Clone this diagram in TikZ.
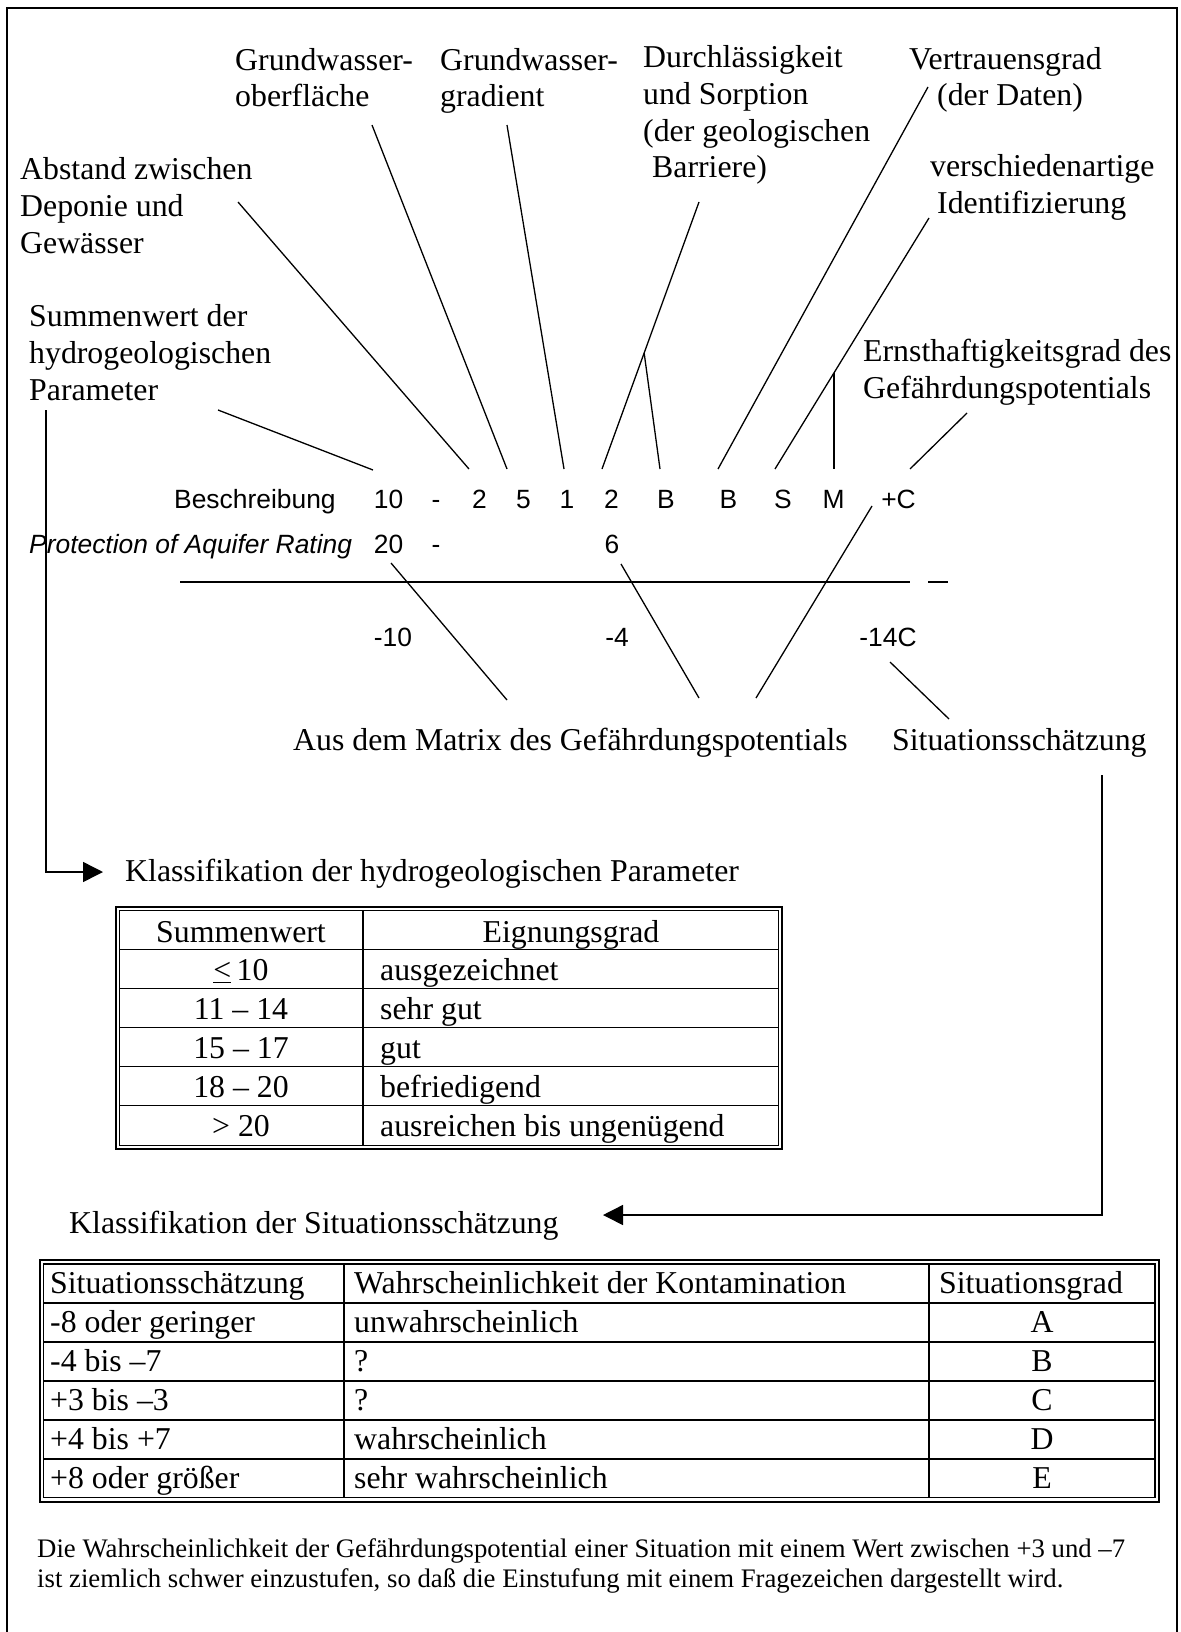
\documentclass[tikz,border=0pt]{standalone}
\usepackage{fontspec}
\setmainfont{Liberation Serif}
\setsansfont{Liberation Sans}
\usetikzlibrary{arrows.meta,calc}

\newcommand\serifbig{\fontsize{31.8}{36.8}\selectfont}
\newcommand\sansrow{\sffamily\fontsize{26.4}{30}\selectfont}
\newcommand\notefont{\fontsize{26.75}{30}\selectfont}

\begin{document}
\begin{tikzpicture}[x=1pt,y=-1pt,
  % multi-line labels are placed by the baseline of their last line
  lbl/.style={font=\serifbig, align=left, inner sep=0pt, anchor=base west},
  val/.style={font=\sansrow, inner sep=0pt, anchor=base},
  conn/.style={line width=1.3pt},
  outerframe/.style={line width=2pt},
  tline/.style={line width=1.4pt},
  tcell/.style={font=\serifbig, inner sep=0pt, anchor=base},
  tcellw/.style={font=\serifbig, inner sep=0pt, anchor=base west},
  flowarrow/.style={line width=1.5pt, -{Triangle[length=20pt,width=20pt]}},
]
\useasboundingbox (0,0) rectangle (1180,1632);

% page frame (open at the bottom edge)
\draw[outerframe] (7,1640) -- (7,8) -- (1177,8) -- (1177,1640);

% ---------- parameter labels ----------
\node[lbl] (ober) at (235,107) {Grundwasser-\\oberfläche};
\node[lbl] (grad) at (440,107) {Grundwasser-\\gradient};
\node[lbl] (durch) at (643,178) {Durchlässigkeit\\und Sorption\\(der geologischen\\\hspace*{9pt}Barriere)};
\node[lbl] (vert) at (909,106) {Vertrauensgrad\\\hspace*{28pt}(der Daten)};
\node[lbl] (abst) at (20,253) {Abstand zwischen\\Deponie und\\Gewässer};
\node[lbl] (versch) at (930,213.5) {verschiedenartige\\\hspace*{7pt}Identifizierung};
\node[lbl] (summ) at (29,400) {Summenwert der\\hydrogeologischen\\Parameter};
\node[lbl] (ernst) at (863,398.5) {Ernsthaftigkeitsgrad des\\Gefährdungspotentials};

% ---------- code line ----------
\node[val, anchor=base west] (besch) at (174,508) {Beschreibung};
\node[val] (v10) at (388.5,508) {10};
\node[val] (vdash) at (436,508) {-};
\node[val] (v2a) at (479.5,508) {2};
\node[val] (v5) at (523.5,508) {5};
\node[val] (v1) at (567,508) {1};
\node[val] (v2b) at (611.5,508) {2};
\node[val] (vBa) at (666,508) {B};
\node[val] (vBb) at (728.5,508) {B};
\node[val] (vS) at (783,508) {S};
\node[val] (vM) at (833.5,508) {M};
\node[val] (vC) at (898.5,508) {+C};

\node[val, anchor=base west, font=\sansrow\itshape] (par) at (29,553) {Protection of Aquifer Rating};
\node[val] (w20) at (388.5,553) {20};
\node[val] (wdash) at (436,553) {-};
\node[val] (w6) at (612,553) {6};

\draw[line width=1.5pt] (180,582) coordinate (ruleA) -- (910,582) coordinate (ruleB);
\draw[line width=1.5pt] (928,582) coordinate (dashA) -- (948,582) coordinate (dashB);

\node[val] (r10) at (393,646) {-10};
\node[val] (r4) at (617,646) {-4};
\node[val] (r14) at (888,646) {-14C};

\node[lbl] (aus) at (293,750) {Aus dem Matrix des Gefährdungspotentials};
\node[lbl] (sit) at (892,750) {Situationsschätzung};

% ---------- connector end points ----------
\coordinate (summ-e) at (218,410);   \coordinate (v10-t) at (373,470);
\coordinate (abst-e) at (238,202);   \coordinate (v2a-t) at (469,469);
\coordinate (ober-e) at (372,125);   \coordinate (v5-t) at (507,469);
\coordinate (grad-e) at (507,125);   \coordinate (v1-t) at (564,469);
\coordinate (durch-e) at (699,202);  \coordinate (v2b-t) at (602,469);
\coordinate (vBa-t) at (660,469);
\coordinate (vert-e) at (928,87);    \coordinate (vBb-t) at (718,469);
\coordinate (versch-e) at (929,218); \coordinate (vS-t) at (775,469);
\coordinate (vM-t) at (834,469);
\coordinate (ernst-e) at (967,413);  \coordinate (vC-t) at (910,469);
\coordinate (w20-b) at (391,563);    \coordinate (aus-a) at (507,700);
\coordinate (w6-b) at (621,564);     \coordinate (aus-b) at (699,698);
\coordinate (vC-b) at (872,506);     \coordinate (aus-c) at (756,698);
\coordinate (r14-b) at (890,662);    \coordinate (sit-t) at (949,719);
\coordinate (durch-br) at ($(durch-e)!0.5655!(v2b-t)$);
\coordinate (versch-br) at ($(versch-e)!0.6175!(vS-t)$);

% ---------- connectors ----------
\draw[conn] (summ-e) -- (v10-t);
\draw[conn] (abst-e) -- (v2a-t);
\draw[conn] (ober-e) -- (v5-t);
\draw[conn] (grad-e) -- (v1-t);
\draw[conn] (durch-e) -- (v2b-t);
\draw[conn] (durch-br) -- (vBa-t);
\draw[conn] (vert-e) -- (vBb-t);
\draw[conn] (versch-e) -- (vS-t);
\draw[conn] (versch-br) -- (versch-br |- vM-t);
\draw[conn] (ernst-e) -- (vC-t);
\draw[conn] (w20-b) -- (aus-a);
\draw[conn] (w6-b) -- (aus-b);
\draw[conn] (vC-b) -- (aus-c);
\draw[conn] (r14-b) -- (sit-t);

% ---------- table 1 ----------
\node[lbl] (kl1) at (125,881) {Klassifikation der hydrogeologischen Parameter};
\coordinate (arr1-s) at (46,410);
\coordinate (arr1-t) at (103,872);
\draw[flowarrow] (arr1-s) |- (arr1-t);

\draw[tline] (116,907) rectangle (782,1149);
\draw[tline] (119.5,910.5) rectangle (778.5,1145.5);
\draw[tline] (363,910.5) -- (363,1145.5);
\foreach \yy in {949.5,988.5,1027.5,1066.5,1105.5}
  \draw[tline] (119.5,\yy) -- (778.5,\yy);

\node[tcell] (t1h1) at (241,942.5) {Summenwert};
\node[tcell] (t1h2) at (571,942.5) {Eignungsgrad};
\node[tcell] (t1a1) at (241,980.5) {\underline{<}\,10};
\node[tcell] (t1b1) at (241,1019.5) {11 – 14};
\node[tcell] (t1c1) at (241,1058.5) {15 – 17};
\node[tcell] (t1d1) at (241,1097.5) {18 – 20};
\node[tcell] (t1e1) at (241,1136.5) {> 20};
\node[tcellw] (t1a2) at (380,980.5) {ausgezeichnet};
\node[tcellw] (t1b2) at (380,1019.5) {sehr gut};
\node[tcellw] (t1c2) at (380,1058.5) {gut};
\node[tcellw] (t1d2) at (380,1097.5) {befriedigend};
\node[tcellw] (t1e2) at (380,1136.5) {ausreichen bis ungenügend};

% ---------- table 2 ----------
\node[lbl] (kl2) at (69,1233) {Klassifikation der Situationsschätzung};
\coordinate (arr2-s) at (1102,775);
\coordinate (arr2-t) at (603,1215);
\draw[flowarrow] (arr2-s) |- (arr2-t);

\draw[line width=2pt] (39.5,1260) rectangle (1159,1501.5);
\draw[tline] (43.5,1264) rectangle (1155,1497.5);
\draw[tline] (344,1264) -- (344,1497.5);
\draw[tline] (929,1264) -- (929,1497.5);
\foreach \yy in {1303,1342,1381,1420,1459}
  \draw[tline] (43.5,\yy) -- (1155,\yy);

\node[tcellw] (t2h1) at (50,1293.5) {Situationsschätzung};
\node[tcellw] (t2h2) at (354,1293.5) {Wahrscheinlichkeit der Kontamination};
\node[tcellw] (t2h3) at (939,1293.5) {Situationsgrad};
\node[tcellw] (t2a1) at (50,1332.5) {-8 oder geringer};
\node[tcellw] (t2b1) at (50,1371.5) {-4 bis –7};
\node[tcellw] (t2c1) at (50,1410.5) {+3 bis –3};
\node[tcellw] (t2d1) at (50,1449.5) {+4 bis +7};
\node[tcellw] (t2e1) at (50,1488.5) {+8 oder größer};
\node[tcellw] (t2a2) at (354,1332.5) {unwahrscheinlich};
\node[tcellw] (t2b2) at (354,1371.5) {?};
\node[tcellw] (t2c2) at (354,1410.5) {?};
\node[tcellw] (t2d2) at (354,1449.5) {wahrscheinlich};
\node[tcellw] (t2e2) at (354,1488.5) {sehr wahrscheinlich};
\node[tcell] (t2a3) at (1042,1332.5) {A};
\node[tcell] (t2b3) at (1042,1371.5) {B};
\node[tcell] (t2c3) at (1042,1410.5) {C};
\node[tcell] (t2d3) at (1042,1449.5) {D};
\node[tcell] (t2e3) at (1042,1488.5) {E};

% ---------- note ----------
\node[lbl, font=\notefont] (note) at (37,1587) {Die Wahrscheinlichkeit der Gefährdungspotential einer Situation mit einem Wert zwischen +3 und –7\\ist ziemlich schwer einzustufen, so daß die Einstufung mit einem Fragezeichen dargestellt wird.};

\end{tikzpicture}
\end{document}
